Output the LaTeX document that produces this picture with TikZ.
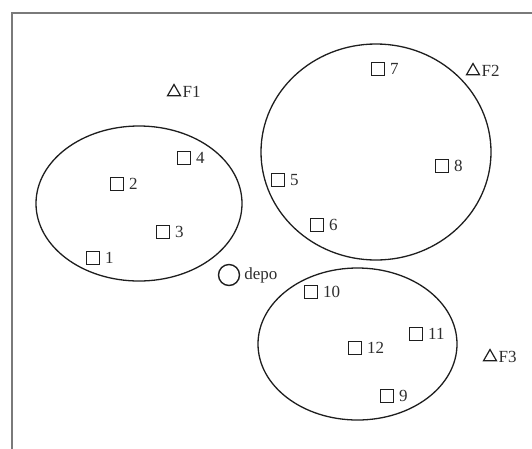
\documentclass[tikz,border=0pt]{standalone}
\usepackage{fontspec}
\setmainfont{Liberation Serif}
\usetikzlibrary{shapes.geometric}
\definecolor{ink}{HTML}{1E1E1E}
\definecolor{txt}{HTML}{2E2E2E}
\definecolor{framec}{HTML}{7A7A7A}
\begin{document}
\begin{tikzpicture}[x=1pt,y=-1pt,
  every label/.style={text=txt,font=\fontsize{17}{19}\selectfont,inner sep=1pt},
  cust/.style={draw=ink,line width=1.4pt,minimum size=12.5pt,inner sep=0pt,
    label={[label distance=4pt]right:#1}},
  fac/.style={draw=ink,line width=1.2pt,regular polygon,regular polygon sides=3,
    minimum size=15pt,inner sep=0pt,label={[label distance=2.5pt]right:#1}},
  region/.style={draw=ink,line width=1.3pt},
  framebox/.style={draw=framec,line width=2pt}]
\useasboundingbox (0,0) rectangle (532,448);
\draw[framebox] (12,13) rectangle (545,460);
% clusters
\draw[region] (139,203.5) ellipse [x radius=103, y radius=77.5];
\draw[region] (376,152) ellipse [x radius=115, y radius=108];
\draw[region] (357.5,344) ellipse [x radius=99.5, y radius=76];
% customers
\node[cust=1] (c1) at (93,258) {};
\node[cust=2] (c2) at (117,184) {};
\node[cust=3] (c3) at (163,232) {};
\node[cust=4] (c4) at (184,158) {};
\node[cust=5] (c5) at (278,180) {};
\node[cust=6] (c6) at (317,225) {};
\node[cust=7] (c7) at (378,69) {};
\node[cust=8] (c8) at (442,166) {};
\node[cust=9] (c9) at (387,396) {};
\node[cust=10] (c10) at (311,292) {};
\node[cust=11] (c11) at (416,334) {};
\node[cust=12] (c12) at (355,348) {};
% facilities
\node[fac=F1] (f1) at (174,92) {};
\node[fac=F2] (f2) at (473,71) {};
\node[fac=F3] (f3) at (490,357) {};
% depot
\node[draw=ink,line width=1.4pt,circle,minimum size=21pt,inner sep=0pt,
  label={[label distance=3pt]right:depo}] (depo) at (229,275) {};
\end{tikzpicture}
\end{document}
